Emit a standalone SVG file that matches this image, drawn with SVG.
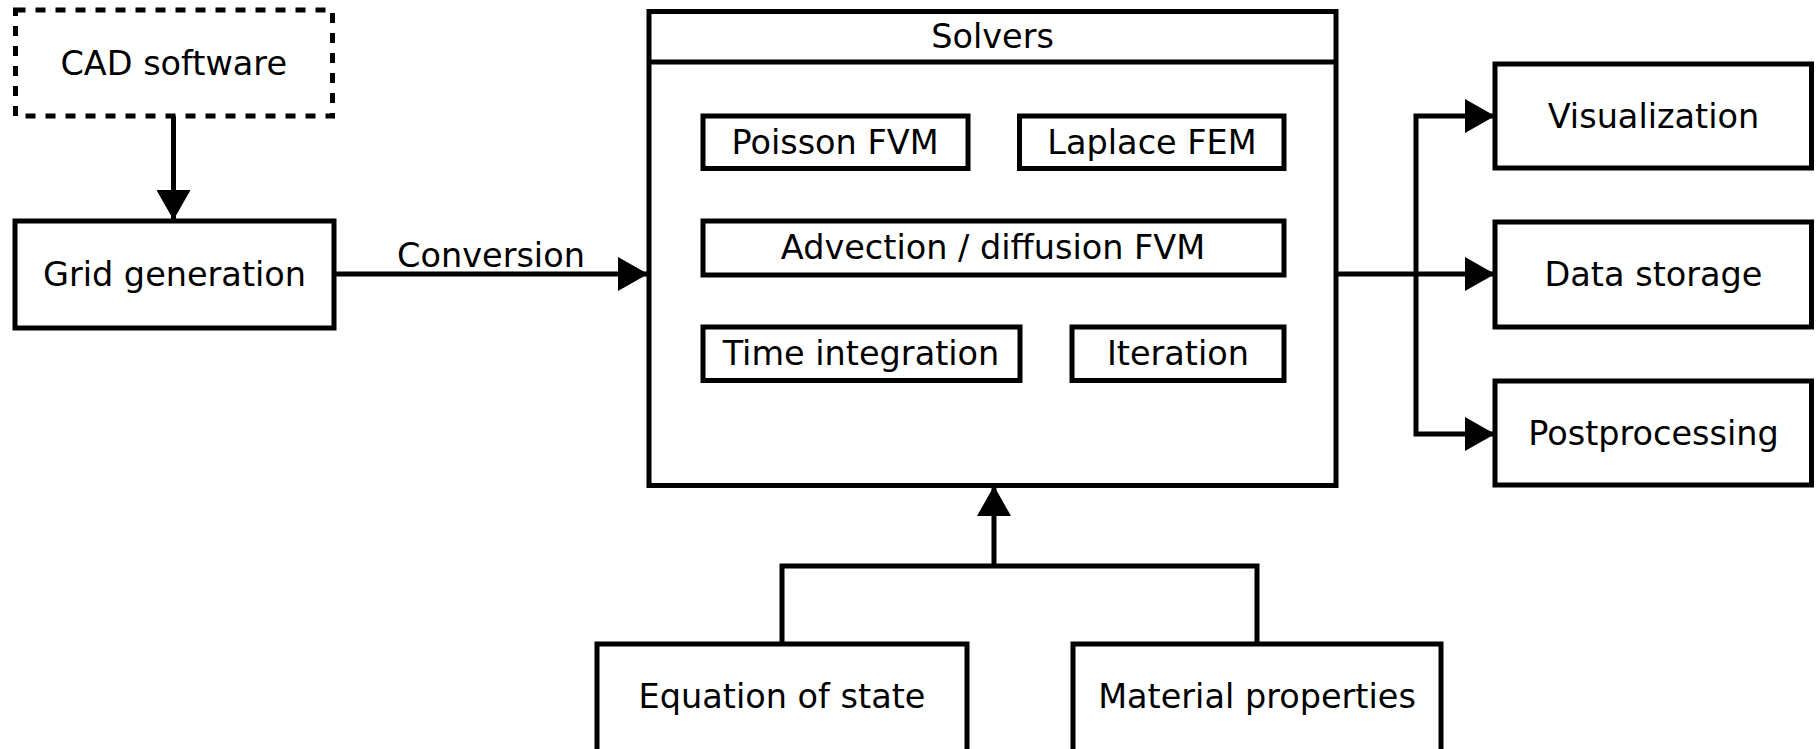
<svg xmlns="http://www.w3.org/2000/svg" width="1816" height="749" viewBox="0 0 1816 749">
<style>
.box{fill:#fff;stroke:#000;stroke-width:5}
.dash{fill:#fff;stroke:#000;stroke-width:5;stroke-dasharray:10 10}
.lbl{font-family:"DejaVu Sans","Liberation Sans",sans-serif;font-size:33.5px;fill:#000;text-anchor:middle}
.con{fill:none;stroke:#000;stroke-width:5}
</style>
<defs>
<marker id="arr" markerUnits="userSpaceOnUse" markerWidth="31" markerHeight="34" refX="30" refY="17" orient="auto">
<path d="M0,0 L30,17 L0,34 z" fill="#000"/>
</marker>
</defs>
<rect width="1816" height="749" fill="#fff"/>
<g id="connectors">
<line class="con" x1="173.5" y1="116" x2="173.5" y2="220" marker-end="url(#arr)"/>
<line class="con" x1="334" y1="274" x2="648" y2="274" marker-end="url(#arr)"/>
<text class="lbl" x="491" y="267">Conversion</text>
<line class="con" x1="1336" y1="274" x2="1495" y2="274" marker-end="url(#arr)"/>
<path class="con" d="M1416,274 V116 H1495" marker-end="url(#arr)"/>
<path class="con" d="M1416,274 V434 H1495" marker-end="url(#arr)"/>
<path class="con" d="M782,644 V566 H1257 V644"/>
<line class="con" x1="994" y1="566" x2="994" y2="486" marker-end="url(#arr)"/>
</g>
<g id="cad"><rect class="dash" x="15.5" y="10" width="317" height="106"/><text class="lbl" x="173.7" y="74.5">CAD software</text></g>
<g id="grid"><rect class="box" x="15" y="221" width="319" height="107"/><text class="lbl" x="174.5" y="286">Grid generation</text></g>
<g id="solvers">
<rect class="box" x="649" y="11.5" width="687" height="474"/>
<line class="con" x1="649" y1="62" x2="1336" y2="62"/>
<text class="lbl" x="992.5" y="48">Solvers</text>
</g>
<g id="poisson"><rect class="box" x="703" y="116" width="265" height="52.5"/><text class="lbl" x="835" y="154">Poisson FVM</text></g>
<g id="laplace"><rect class="box" x="1019.5" y="116" width="264.5" height="52.5"/><text class="lbl" x="1152" y="154">Laplace FEM</text></g>
<g id="advection"><rect class="box" x="703" y="221" width="581" height="54"/><text class="lbl" x="993" y="259">Advection / diffusion FVM</text></g>
<g id="time"><rect class="box" x="703" y="327" width="317" height="53.5"/><text class="lbl" x="861" y="365">Time integration</text></g>
<g id="iteration"><rect class="box" x="1072" y="327" width="212" height="53.5"/><text class="lbl" x="1178" y="365">Iteration</text></g>
<g id="visualization"><rect class="box" x="1495" y="64" width="316.5" height="104"/><text class="lbl" x="1653.5" y="127.5">Visualization</text></g>
<g id="datastorage"><rect class="box" x="1495" y="222" width="316.5" height="105"/><text class="lbl" x="1653.5" y="286">Data storage</text></g>
<g id="postprocessing"><rect class="box" x="1495" y="381" width="316.5" height="104"/><text class="lbl" x="1653.5" y="444.5">Postprocessing</text></g>
<g id="eos"><rect class="box" x="597" y="644" width="370" height="110"/><text class="lbl" x="782" y="708">Equation of state</text></g>
<g id="material"><rect class="box" x="1073" y="644" width="368" height="110"/><text class="lbl" x="1257" y="708">Material properties</text></g>
</svg>
